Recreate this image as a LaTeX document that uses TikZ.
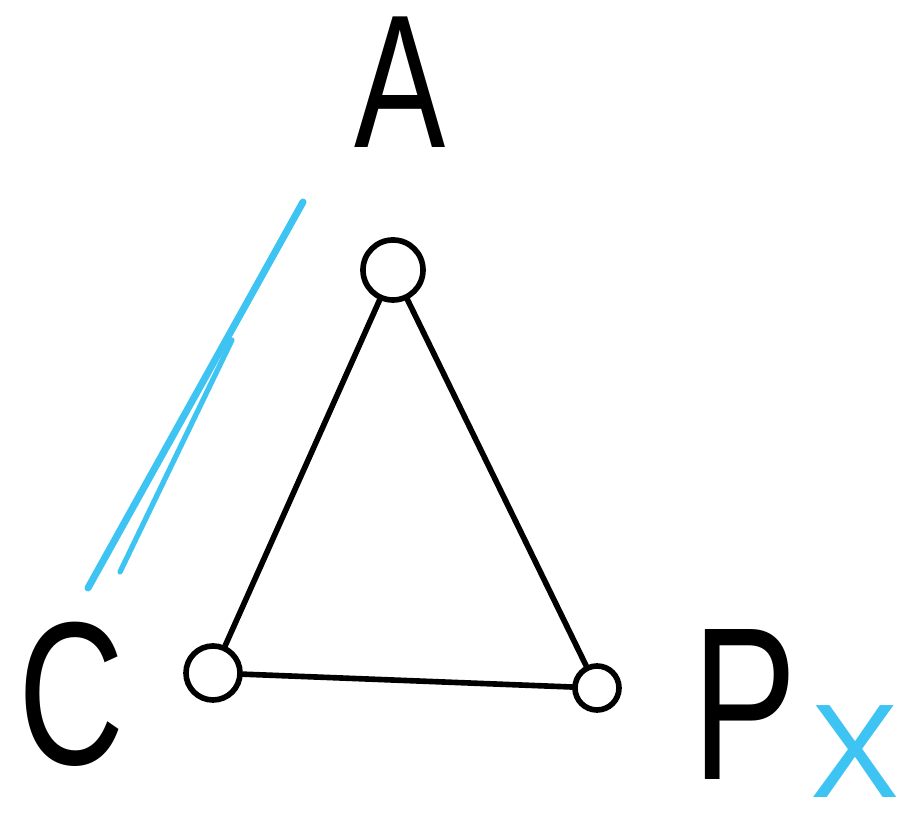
\documentclass[tikz,border=0pt]{standalone}
\usepackage{fontspec}
\setmainfont{Liberation Sans}
\definecolor{penblue}{RGB}{62,196,242}
\newcommand{\narrow}[1]{\scalebox{0.72}[1]{#1}}
\tikzset{
  vertex/.style={circle,draw,line width=1.6pt,inner sep=0pt,minimum size=#1},
  edge/.style={line width=1.6pt,line cap=round},
  marker/.style={penblue,line width=2pt,line cap=round},
  letter/.style={inner sep=0pt,font=\fontsize{#1}{#1}\selectfont}
}
\begin{document}
\begin{tikzpicture}[x=0.01cm,y=-0.01cm]
  \useasboundingbox (0,0) rectangle (905,831);
  % corners of the triangle
  \node[vertex=0.6cm] (top) at (393,270) {};
  \node[vertex=0.54cm] (left) at (213,673) {};
  \node[vertex=0.44cm] (right) at (597,688) {};
  \draw[edge] (top) -- (left);
  \draw[edge] (top) -- (right);
  \draw[edge] (left) -- (right);
  % letters
  \node[letter=54] (lblA) at (400,82) {\narrow{A}};
  \node[letter=58] (lblC) at (72,694) {\narrow{C}};
  \node[letter=62] (lblP) at (745,705) {\narrow{P}};
  \node[letter=38,text=penblue] (lblX) at (855,752) {X};
  % the blue strokes beside A--C
  \coordinate (s1) at (303,202);
  \coordinate (e1) at (88,588);
  \coordinate (s2) at (232,340);
  \coordinate (e2) at (120,572);
  \draw[marker] (s1) -- (e1);
  \draw[marker,line width=1.5pt] (s2) -- (e2);
\end{tikzpicture}
\end{document}
